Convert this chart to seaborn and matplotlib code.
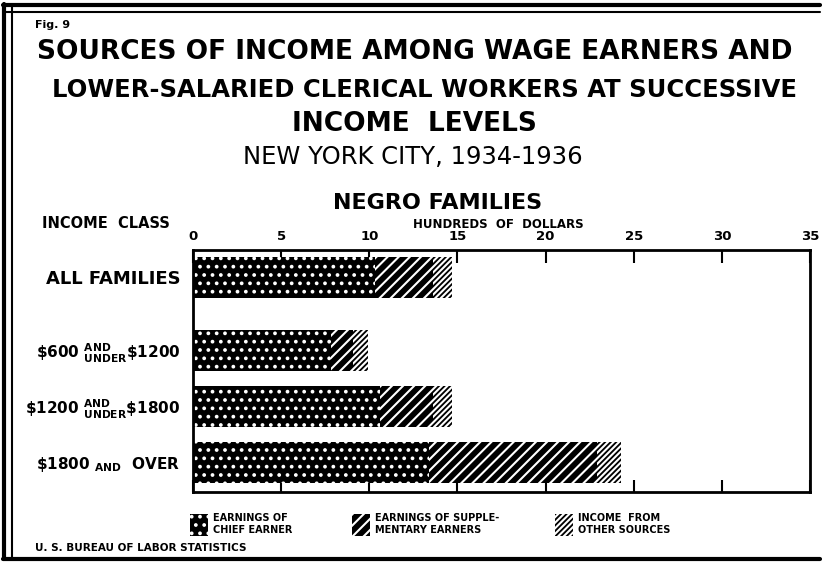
import numpy as np
import pandas as pd
import matplotlib.pyplot as plt
import seaborn as sns
from matplotlib.patches import Patch
from matplotlib.lines import Line2D

# income classes, values in hundreds of dollars
classes = ["ALL FAMILIES",
           r"\$600 $^{\mathbf{AND}}_{\mathbf{UNDER}}$\$1200",
           r"\$1200 $^{\mathbf{AND}}_{\mathbf{UNDER}}$\$1800",
           r"\$1800 $_{\mathbf{AND}}$  OVER"]
chief = [10.3, 7.8, 10.6, 13.4]
supplementary = [3.3, 1.3, 3.0, 9.5]
other = [1.1, 0.8, 1.1, 1.4]
row_pos = [0.49, 1.79, 2.79, 3.79]

legend_labels = ["EARNINGS OF\nCHIEF EARNER",
                 "EARNINGS OF SUPPLE-\nMENTARY EARNERS",
                 "INCOME  FROM\nOTHER SOURCES"]

df = pd.DataFrame({"cls": classes, "pos": row_pos, "chief": chief,
                   "supp": supplementary, "other": other})
df["chief_supp"] = df["chief"] + df["supp"]
df["total"] = df["chief_supp"] + df["other"]

sns.set_style("white")
plt.rcParams['font.family'] = ['DejaVu Sans']
plt.rcParams['font.weight'] = 'bold'
plt.rcParams['mathtext.fontset'] = 'dejavusans'
plt.rcParams['hatch.linewidth'] = 1.5
for k in ['text.color', 'axes.labelcolor', 'xtick.color', 'ytick.color']:
    plt.rcParams[k] = 'black'

fig = plt.figure(figsize=(8.28, 5.62), dpi=100)
ax = fig.add_axes([0.2331, 0.1246, 0.7452, 0.4306])

# stacked bars drawn as overlapping cumulative totals
hatches = ["//////", "///", ".."]
for col in ["total", "chief_supp", "chief"]:
    sns.barplot(data=df, x=col, y="pos", orient="y", native_scale=True,
                color="black", saturation=1, width=0.73, ax=ax)
for cont, h in zip(ax.containers, hatches):
    for bar in cont:
        bar.set_hatch(h)
        bar.set_edgecolor("white")
        bar.set_linewidth(0)

ax.set_xlim(0, 35)
ax.set_ylim(4.32, 0)
ax.set_yticks(row_pos)
ax.set_yticklabels(classes, fontsize=11, fontweight='bold')
ax.get_yticklabels()[0].set_fontsize(13)
ax.set_xticks(np.arange(0, 36, 5))
ax.xaxis.tick_top()
ax.tick_params(axis='x', direction='in', length=9, width=1.5, pad=5,
               labelsize=9.5, top=True, bottom=True)
ax.tick_params(axis='y', length=0, pad=9)
ax.set_xlabel("")
ax.set_ylabel("")
for s in ax.spines.values():
    s.set_linewidth(2)
    s.set_color("black")

# titles
fig.text(0.501, 0.9075, "SOURCES OF INCOME AMONG WAGE EARNERS AND",
         ha='center', va='center', fontsize=19, fontweight='bold')
fig.text(0.513, 0.8399, "LOWER-SALARIED CLERICAL WORKERS AT SUCCESSIVE",
         ha='center', va='center', fontsize=17.5, fontweight='bold')
fig.text(0.501, 0.7794, "INCOME  LEVELS",
         ha='center', va='center', fontsize=19, fontweight='bold')
fig.text(0.499, 0.7206, "NEW YORK CITY, 1934-1936",
         ha='center', va='center', fontsize=17.5, fontweight='normal')
fig.text(0.528, 0.6388, "NEGRO FAMILIES",
         ha='center', va='center', fontsize=16, fontweight='bold')
fig.text(0.0507, 0.6032, "INCOME  CLASS", ha='left', va='center',
         fontsize=10.5, fontweight='bold')
fig.text(0.4988, 0.601, "HUNDREDS  OF  DOLLARS", ha='left', va='center',
         fontsize=8.5, fontweight='bold')
fig.text(0.042, 0.955, "Fig. 9", ha='left', va='center',
         fontsize=8, fontweight='bold')
fig.text(0.042, 0.025, "U. S. BUREAU OF LABOR STATISTICS", ha='left',
         va='center', fontsize=7.5, fontweight='bold')

# legend, one entry at a time
leg_x = [0.229, 0.425, 0.670]
for lab, h, lx in zip(legend_labels, hatches[::-1], leg_x):
    handle = Patch(facecolor='black', edgecolor='white', hatch=h, linewidth=0)
    fig.legend(handles=[handle], labels=[lab], loc='center left',
               bbox_to_anchor=(lx, 0.067), frameon=False,
               handlelength=1.9, handleheight=3.0, handletextpad=0.5,
               prop={'size': 7, 'weight': 'bold'}, borderpad=0,
               borderaxespad=0)

# double frame
for x, lw in [(0.005, 3), (0.015, 1.5)]:
    fig.add_artist(Line2D([x, x], [0.005, 0.993], color='black', lw=lw))
for y, lw in [(0.991, 3), (0.978, 1.5)]:
    fig.add_artist(Line2D([0.004, 0.99], [y, y], color='black', lw=lw))
fig.add_artist(Line2D([0.004, 0.99], [0.006, 0.006], color='black', lw=3))

plt.savefig("out.png", dpi=100)
